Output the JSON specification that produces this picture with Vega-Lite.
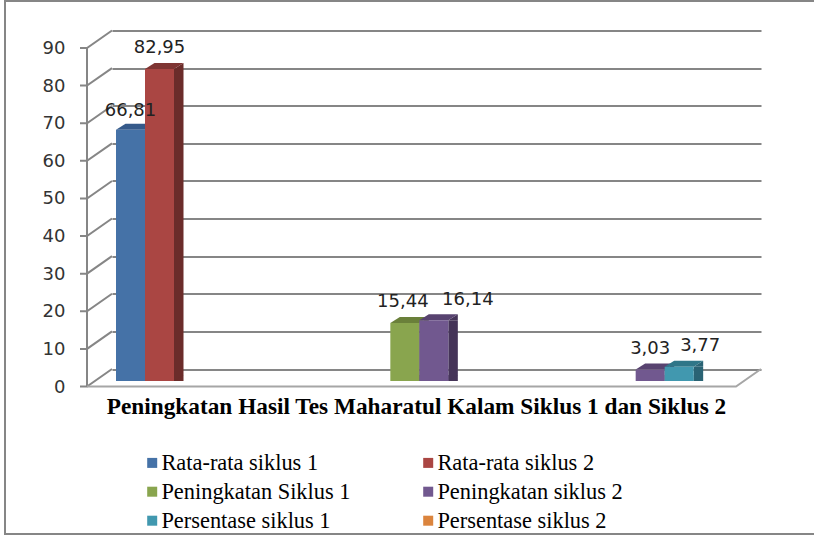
{
"$schema":"https://vega.github.io/schema/vega-lite/v6.json",
"width":649,"height":338.5,
"autosize":{"type":"none"},
"padding":{"left":112,"top":30.5,"right":53,"bottom":166},
"background":"white",
"config":{"view":{"stroke":null}},
"datasets":{
"bars":[
{"kategori":"Rata-rata","seri":"Rata-rata siklus 1","nilai":66.81,"label":"66,81"},
{"kategori":"Rata-rata","seri":"Rata-rata siklus 2","nilai":82.95,"label":"82,95"},
{"kategori":"Peningkatan","seri":"Peningkatan Siklus 1","nilai":15.44,"label":"15,44"},
{"kategori":"Peningkatan","seri":"Peningkatan siklus 2","nilai":16.14,"label":"16,14"},
{"kategori":"Persentase","seri":"Peningkatan siklus 2","nilai":3.03,"label":"3,03"},
{"kategori":"Persentase","seri":"Persentase siklus 1","nilai":3.77,"label":"3,77"}
],
"ticks":[{"t":0},{"t":10},{"t":20},{"t":30},{"t":40},{"t":50},{"t":60},{"t":70},{"t":80},{"t":90}]
},
"data":{"name":"bars"},
"layer":[
{"data":{"name":"ticks"},
 "mark":{"type":"point","shape":"M0 0 L-25 17.5 L-32 17.5","size":4,"filled":false,"stroke":"#868686","strokeWidth":2,"opacity":1},
 "encoding":{
  "x":{"datum":"Rata-rata","bandPosition":0,"type":"nominal","scale":{"domain":["Rata-rata","Peningkatan","Persentase"],"paddingInner":0,"paddingOuter":0},"axis":{"domain":false,"ticks":false,"labels":false,"grid":false,"title":"Peningkatan Hasil Tes Maharatul Kalam Siklus 1 dan Siklus 2","titleFont":"Liberation Serif","titleFontSize":23.3,"titleFontWeight":"bold","titleColor":"#000000","titleX":304,"titleY":37,"titleBaseline":"middle"}},
  "y":{"field":"t","type":"quantitative","scale":{"domain":[0,90],"nice":false},"axis":{"values":[0,10,20,30,40,50,60,70,80,90],"labelOverlap":false,"title":null,"domain":false,"ticks":false,"grid":true,"gridColor":"#868686","gridWidth":2,"labelFont":"DejaVu Sans","labelFontSize":18,"labelColor":"#333333","labelPadding":47,"labelOffset":18}}
 }},
{"data":{"values":[{"a":0,"b":90}]},
 "mark":{"type":"rule","stroke":"#868686","strokeWidth":2,"xOffset":-25,"yOffset":17.5,"y2Offset":17.5},
 "encoding":{"x":{"datum":"Rata-rata","bandPosition":0,"type":"nominal"},"y":{"field":"a","type":"quantitative","axis":{"values":[0,10,20,30,40,50,60,70,80,90],"labelOverlap":false}},"y2":{"field":"b"}}},
{"data":{"values":[{"a":0}]},
 "mark":{"type":"point","shape":"M-25 17.5 L624 17.5 L649 0","size":4,"filled":false,"stroke":"#a6a6a6","strokeWidth":2,"opacity":1},
 "encoding":{"x":{"datum":"Rata-rata","bandPosition":0,"type":"nominal"},"y":{"field":"a","type":"quantitative","axis":{"values":[0,10,20,30,40,50,60,70,80,90],"labelOverlap":false}}}},
{"data":{"values":[{"a":0}]},
 "mark":{"type":"point","shape":"M702 -368 L-107 -368 L-107 165 L702 165","size":4,"filled":false,"stroke":"#868686","strokeWidth":2,"opacity":1},
 "encoding":{"x":{"datum":"Rata-rata","bandPosition":0,"type":"nominal"},"y":{"field":"a","type":"quantitative","axis":{"values":[0,10,20,30,40,50,60,70,80,90],"labelOverlap":false}}}},
{"mark":{"type":"bar","width":9.5,"yOffset":12,"y2Offset":6},
 "encoding":{
  "x":{"field":"kategori","type":"nominal"},
  "xOffset":{"field":"seri","type":"nominal","scale":{"type":"band","domain":["Rata-rata siklus 1","Rata-rata siklus 2","Peningkatan Siklus 1","Peningkatan siklus 2","Persentase siklus 1","Persentase siklus 2"],"range":[23.25,197.25],"paddingInner":0,"paddingOuter":0}},
  "y":{"field":"nilai","type":"quantitative","axis":{"values":[0,10,20,30,40,50,60,70,80,90],"labelOverlap":false}},
  "color":{"field":"seri","type":"nominal","legend":null,"scale":{"domain":["Rata-rata siklus 1","Rata-rata siklus 2","Peningkatan Siklus 1","Peningkatan siklus 2","Persentase siklus 1","Persentase siklus 2"],"range":["#2f4f78","#6b2c2a","#5c7033","#453458","#2a6374","#915627"]}}
 }},
{"layer":[
 {"mark":{"type":"point","shape":"M14.5 0 L24 -6 L24 0 Z","size":4,"filled":true,"opacity":1,"strokeWidth":0,"yOffset":12},
  "encoding":{
   "y":{"field":"nilai","type":"quantitative","axis":{"values":[0,10,20,30,40,50,60,70,80,90],"labelOverlap":false}},
   "color":{"field":"seri","type":"nominal","legend":null,"scale":{"domain":["Rata-rata siklus 1","Rata-rata siklus 2","Peningkatan Siklus 1","Peningkatan siklus 2","Persentase siklus 1","Persentase siklus 2"],"range":["#2f4f78","#6b2c2a","#5c7033","#453458","#2a6374","#915627"]}}}},
 {"mark":{"type":"point","shape":"M14.5 0 L24 -6 L14.5 -6 Z","size":4,"filled":true,"opacity":1,"strokeWidth":0,"yOffset":12},
  "encoding":{
   "y":{"datum":0,"type":"quantitative","axis":{"values":[0,10,20,30,40,50,60,70,80,90],"labelOverlap":false}},
   "color":{"field":"seri","type":"nominal","legend":null,"scale":{"domain":["Rata-rata siklus 1","Rata-rata siklus 2","Peningkatan Siklus 1","Peningkatan siklus 2","Persentase siklus 1","Persentase siklus 2"],"range":["#2f4f78","#6b2c2a","#5c7033","#453458","#2a6374","#915627"]}}}},
 {"mark":{"type":"point","shape":"M-14.5 0 L14.5 0 L24 -6 L-5 -6 Z","size":4,"filled":true,"opacity":1,"strokeWidth":0,"yOffset":12},
  "encoding":{
   "y":{"field":"nilai","type":"quantitative","axis":{"values":[0,10,20,30,40,50,60,70,80,90],"labelOverlap":false}},
   "color":{"field":"seri","type":"nominal","legend":null,"scale":{"domain":["Rata-rata siklus 1","Rata-rata siklus 2","Peningkatan Siklus 1","Peningkatan siklus 2","Persentase siklus 1","Persentase siklus 2"],"range":["#355a8a","#7f3533","#6a803a","#584370","#2f7688","#a6652f"]}}}},
 {"mark":{"type":"bar","width":29,"yOffset":12,"y2Offset":12},
  "encoding":{
   "y":{"field":"nilai","type":"quantitative","axis":{"values":[0,10,20,30,40,50,60,70,80,90],"labelOverlap":false}},
   "color":{"field":"seri","type":"nominal","scale":{"domain":["Rata-rata siklus 1","Rata-rata siklus 2","Peningkatan Siklus 1","Peningkatan siklus 2","Persentase siklus 1","Persentase siklus 2"],"range":["#4572a7","#aa4643","#89a54e","#71588f","#4198af","#db843d"]},
    "legend":{"orient":"none","legendX":29,"legendY":421,"columns":2,"direction":"horizontal","title":null,"symbolType":"square","symbolSize":100,"symbolStrokeWidth":0,"labelFont":"Liberation Serif","labelFontSize":22.4,"labelColor":"#000000","labelLimit":400,"labelOffset":-2,"columnPadding":66,"rowPadding":6}}}}
 ],
 "encoding":{
  "x":{"field":"kategori","type":"nominal"},
  "xOffset":{"field":"seri","type":"nominal","scale":{"type":"band","domain":["Rata-rata siklus 1","Rata-rata siklus 2","Peningkatan Siklus 1","Peningkatan siklus 2","Persentase siklus 1","Persentase siklus 2"],"range":[4,178],"paddingInner":0,"paddingOuter":0}}
 },
 "resolve":{"scale":{"color":"independent"}}
},
{"transform":[{"filter":"datum.label!='16,14' && datum.label!='3,77' && datum.label!='66,81' && datum.label!='15,44'"}],
 "mark":{"type":"text","font":"DejaVu Sans","fontSize":18,"color":"#222222","dy":-9,"baseline":"middle"},
 "encoding":{"x":{"field":"kategori","type":"nominal"},"xOffset":{"field":"seri","type":"nominal","scale":{"type":"band","domain":["Rata-rata siklus 1","Rata-rata siklus 2","Peningkatan Siklus 1","Peningkatan siklus 2","Persentase siklus 1","Persentase siklus 2"],"range":[4,178],"paddingInner":0,"paddingOuter":0}},"y":{"field":"nilai","type":"quantitative","axis":{"values":[0,10,20,30,40,50,60,70,80,90],"labelOverlap":false}},"text":{"field":"label"}}},
{"transform":[{"filter":"datum.label=='15,44'"}],
 "mark":{"type":"text","font":"DejaVu Sans","fontSize":18,"color":"#222222","dy":-9,"dx":-2,"baseline":"middle"},
 "encoding":{"x":{"field":"kategori","type":"nominal"},"xOffset":{"field":"seri","type":"nominal","scale":{"type":"band","domain":["Rata-rata siklus 1","Rata-rata siklus 2","Peningkatan Siklus 1","Peningkatan siklus 2","Persentase siklus 1","Persentase siklus 2"],"range":[4,178],"paddingInner":0,"paddingOuter":0}},"y":{"field":"nilai","type":"quantitative","axis":{"values":[0,10,20,30,40,50,60,70,80,90],"labelOverlap":false}},"text":{"field":"label"}}},
{"transform":[{"filter":"datum.label=='66,81'"}],
 "mark":{"type":"text","font":"DejaVu Sans","fontSize":18,"color":"#222222","dy":-7,"baseline":"middle"},
 "encoding":{"x":{"field":"kategori","type":"nominal"},"xOffset":{"field":"seri","type":"nominal","scale":{"type":"band","domain":["Rata-rata siklus 1","Rata-rata siklus 2","Peningkatan Siklus 1","Peningkatan siklus 2","Persentase siklus 1","Persentase siklus 2"],"range":[4,178],"paddingInner":0,"paddingOuter":0}},"y":{"field":"nilai","type":"quantitative","axis":{"values":[0,10,20,30,40,50,60,70,80,90],"labelOverlap":false}},"text":{"field":"label"}}},
{"transform":[{"filter":"datum.label=='16,14'"}],
 "mark":{"type":"text","font":"DejaVu Sans","fontSize":18,"color":"#222222","dy":-8,"dx":34,"baseline":"middle"},
 "encoding":{"x":{"field":"kategori","type":"nominal"},"xOffset":{"field":"seri","type":"nominal","scale":{"type":"band","domain":["Rata-rata siklus 1","Rata-rata siklus 2","Peningkatan Siklus 1","Peningkatan siklus 2","Persentase siklus 1","Persentase siklus 2"],"range":[4,178],"paddingInner":0,"paddingOuter":0}},"y":{"field":"nilai","type":"quantitative","axis":{"values":[0,10,20,30,40,50,60,70,80,90],"labelOverlap":false}},"text":{"field":"label"}}},
{"transform":[{"filter":"datum.label=='3,77'"}],
 "mark":{"type":"text","font":"DejaVu Sans","fontSize":18,"color":"#222222","dy":-9,"dx":21,"baseline":"middle"},
 "encoding":{"x":{"field":"kategori","type":"nominal"},"xOffset":{"field":"seri","type":"nominal","scale":{"type":"band","domain":["Rata-rata siklus 1","Rata-rata siklus 2","Peningkatan Siklus 1","Peningkatan siklus 2","Persentase siklus 1","Persentase siklus 2"],"range":[4,178],"paddingInner":0,"paddingOuter":0}},"y":{"field":"nilai","type":"quantitative","axis":{"values":[0,10,20,30,40,50,60,70,80,90],"labelOverlap":false}},"text":{"field":"label"}}}
],
"resolve":{"scale":{"color":"independent","xOffset":"independent"}}
}
